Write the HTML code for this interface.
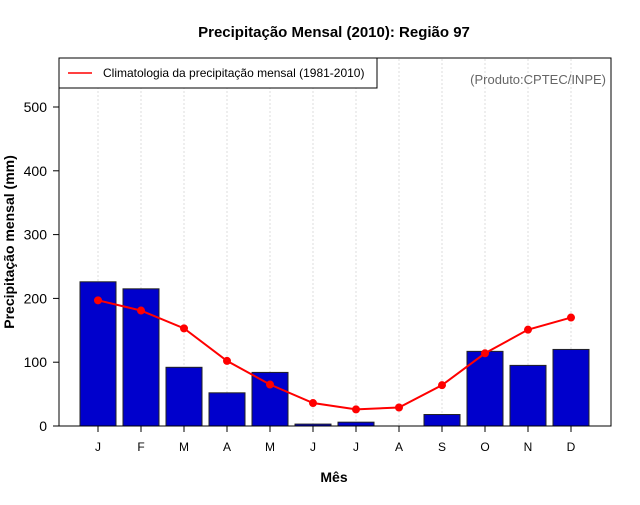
<!DOCTYPE html>
<html><head><meta charset="utf-8"><style>
body{margin:0;background:#fff}
svg text{font-family:"Liberation Sans",Arial,sans-serif}
</style></head><body>
<svg id="chart" width="640" height="500">
<text x="334" y="37" text-anchor="middle" font-size="15" font-weight="bold">Precipitação Mensal (2010): Região 97</text>
<g id="grid"></g>
<g id="bars"></g>
<g id="line"></g>
<rect x="59" y="58" width="552" height="368" fill="none" stroke="#000"/>
<g id="axes"></g>
<g>
<rect x="59" y="58" width="318" height="30" fill="#fff" stroke="#000"/>
<line x1="68" y1="73" x2="92" y2="73" stroke="#f00" stroke-width="1.5"/>
<text x="103" y="77" font-size="12">Climatologia da precipitação mensal (1981-2010)</text>
</g>
<text x="606" y="84" text-anchor="end" font-size="13" fill="#666">(Produto:CPTEC/INPE)</text>
<text x="334" y="482" text-anchor="middle" font-size="14" font-weight="bold">Mês</text>
<text transform="translate(14,242) rotate(-90)" text-anchor="middle" font-size="14" font-weight="bold">Precipitação mensal (mm)</text>
</svg>
<script>
const months = ["J","F","M","A","M","J","J","A","S","O","N","D"];
const observed = [226,215,92,52,84,3,6,0,18,117,95,120];
const climatology = [197,181,153,102,65,36,26,29,64,114,151,170];
const yTicks = [0,100,200,300,400,500];
const NS="http://www.w3.org/2000/svg";
function xS(i){return 98+i*43;}
function yS(v){return 426-v*0.638;}
function mk(tag,attrs,parent){const e=document.createElementNS(NS,tag);for(const k in attrs)e.setAttribute(k,attrs[k]);document.getElementById(parent).appendChild(e);return e;}
months.forEach((m,i)=>{
  const g=mk('line',{x1:xS(i),x2:xS(i),y1:59,y2:425,stroke:'#ddd','stroke-dasharray':'2,2'},'grid');
  
  
  const b=mk('rect',{x:xS(i)-18,y:yS(observed[i]),width:36,height:426-yS(observed[i]),fill:'#0000cc',stroke:'#222','stroke-width':1},'bars');
  
  
  const t=mk('line',{x1:xS(i),x2:xS(i),y1:426,y2:432,stroke:'#000'},'axes');
  
  
  const l=mk('text',{x:xS(i),y:451,'text-anchor':'middle','font-size':12},'axes');
  l.textContent=m;
  
  
});
const pl=mk('polyline',{points:climatology.map((v,i)=>xS(i)+','+yS(v)).join(' '),fill:'none',stroke:'#f00','stroke-width':2},'line');


climatology.forEach((v,i)=>{
  const c=mk('circle',{cx:xS(i),cy:yS(v),r:4,fill:'#f00'},'line');
  
  
});
yTicks.forEach(v=>{
  const t=mk('line',{x1:53,x2:59,y1:yS(v),y2:yS(v),stroke:'#000'},'axes');
  
  
  const l=mk('text',{x:47,y:yS(v)+5,'text-anchor':'end','font-size':14},'axes');
  l.textContent=v;
  
  
});
</script>
</body></html>
